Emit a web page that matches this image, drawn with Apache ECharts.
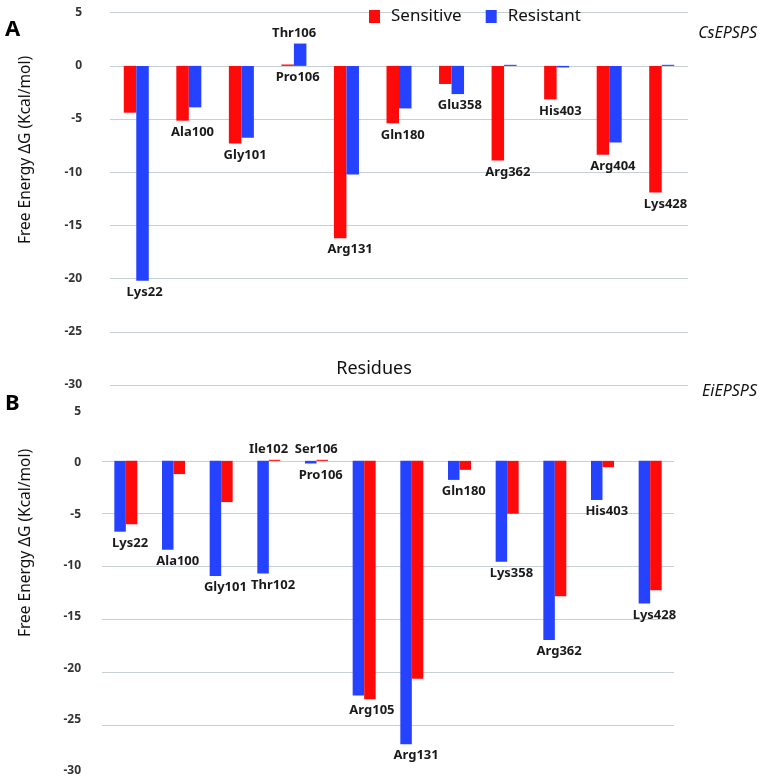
<!DOCTYPE html>
<html><head><meta charset="utf-8">
<script src="https://cdn.jsdelivr.net/npm/echarts@6/dist/echarts.min.js"></script>
<style>html,body{margin:0;padding:0;background:#fff}#c{width:763px;height:778px}</style>
</head><body><div id="c"></div>
<script>
// ---- Panel A: CsEPSPS ----
const csSensitiveRes = ['Lys22','Ala100','Gly101','Pro106','Arg131','Gln180','Glu358','Arg362','His403','Arg404','Lys428'];
const csResistantRes = ['Lys22','Ala100','Gly101','Thr106','Arg131','Gln180','Glu358','Arg362','His403','Arg404','Lys428'];
const csSensitive = [-4.4, -5.15, -7.3, 0.13, -16.2, -5.4, -1.7, -8.9, -3.15, -8.35, -11.9];
const csResistant = [-20.2, -3.9, -6.75, 2.1, -10.2, -4.0, -2.65, 0.1, -0.15, -7.2, 0.1];

// ---- Panel B: EiEPSPS ----
const eiSensitiveRes = ['Lys22','Ala100','Gly101','Ile102','Ser106','Arg105','Arg131','Gln180','Lys358','Arg362','His403','Lys428'];
const eiResistantRes = ['Lys22','Ala100','Gly101','Thr102','Pro106','Arg105','Arg131','Gln180','Lys358','Arg362','His403','Lys428'];
const eiResistant = [-6.7, -8.4, -10.9, -10.65, -0.25, -22.2, -26.8, -1.8, -9.55, -16.95, -3.7, -13.5];
const eiSensitive = [-6.0, -1.25, -3.9, 0.1, 0.1, -22.55, -20.6, -0.85, -5.0, -12.8, -0.6, -12.25];

// axis ticks
const yMin = -30, yMax = 5, yStep = 5;
const legendNames = ['Sensitive', 'Resistant'];
const RED = '#ff0a0a', BLUE = '#2442ff';
const GRID_C = '#c8d0d4';

const labelFont = {fontFamily:'Noto Sans', fontWeight:'bold', fontSize:13, color:'#1a1a1a'};

function labeled(values, names, otherValues, otherNames, isLeft) {
  return values.map((v, i) => {
    const o = otherValues[i];
    const same = names[i] === otherNames[i];
    let show, pos;
    if (same) { show = v < o || (v === o && isLeft); pos = 'bottom'; }
    else { show = true; pos = v >= o ? 'top' : 'bottom'; }
    return {value: v, label: Object.assign({show, formatter: names[i], position: pos, distance: pos === 'top' ? 4 : 5,
      offset: [isLeft ? 10 : (same ? 2 : -6), 0]}, labelFont)};
  });
}

const chart = echarts.init(document.getElementById('c'), null, {renderer:'canvas'});
const tickLabel = {fontFamily:'Noto Sans', fontWeight:'bold', fontSize:12, color:'#333'};

chart.setOption({
  animation: false,
  backgroundColor: '#fff',
  legend: {
    data: legendNames, left: 364, top: 3, itemWidth: 11, itemHeight: 13, itemGap: 24,
    icon: 'rect',
    textStyle: {fontFamily:'Noto Sans', fontSize:17, color:'#111', padding:[0,0,0,6]}
  },
  grid: [
    {left: 110, top: 12.7, width: 578, height: 372.3},
    {left: 102, top: 408, width: 572, height: 381},
    {left: 102, top: 411.7, width: 572, height: 359}
  ],
  xAxis: [
    {type:'category', gridIndex:0, data: csSensitiveRes, axisLine:{show:false}, axisTick:{show:false}, axisLabel:{show:false}},
    {type:'category', gridIndex:1, data: eiResistantRes, axisLine:{show:false}, axisTick:{show:false}, axisLabel:{show:false}},
    {type:'category', gridIndex:2, data: eiResistantRes, show:false}
  ],
  yAxis: [
    {type:'value', gridIndex:0, min:yMin, max:yMax, interval:yStep,
      axisLine:{show:false}, axisTick:{show:false},
      axisLabel: Object.assign({margin: 28}, tickLabel),
      splitLine:{lineStyle:{color:GRID_C, width:1}}},
    {type:'value', gridIndex:1, min:yMin, max:yMax, interval:yStep,
      axisLine:{show:false}, axisTick:{show:false}, axisLabel:{show:false},
      splitLine:{lineStyle:{color:[GRID_C,GRID_C,GRID_C,GRID_C,GRID_C,GRID_C,GRID_C,'rgba(0,0,0,0)'], width:1}}},
    {type:'value', gridIndex:2, min:yMin, max:yMax, interval:yStep,
      axisLine:{show:false}, axisTick:{show:false}, splitLine:{show:false},
      axisLabel: Object.assign({margin: 21}, tickLabel)}
  ],
  series: [
    {name:'Sensitive', type:'bar', xAxisIndex:0, yAxisIndex:0, barWidth:12.5, barGap:'0%',
      itemStyle:{color:RED}, data: labeled(csSensitive, csSensitiveRes, csResistant, csResistantRes, true)},
    {name:'Resistant', type:'bar', xAxisIndex:0, yAxisIndex:0, barWidth:12.5, barGap:'0%',
      itemStyle:{color:BLUE}, data: labeled(csResistant, csResistantRes, csSensitive, csSensitiveRes, false)},
    {name:'Resistant', type:'bar', xAxisIndex:1, yAxisIndex:1, barWidth:11.5, barGap:'0%',
      itemStyle:{color:BLUE}, data: labeled(eiResistant, eiResistantRes, eiSensitive, eiSensitiveRes, true)},
    {name:'Sensitive', type:'bar', xAxisIndex:1, yAxisIndex:1, barWidth:11.5, barGap:'0%',
      itemStyle:{color:RED}, data: labeled(eiSensitive, eiSensitiveRes, eiResistant, eiResistantRes, false)}
  ],
  graphic: [
    {type:'text', left: 5, top: 19, style:{text:'A', fontFamily:'Noto Sans', fontWeight:'bold', fontSize:22, fill:'#000'}},
    {type:'text', left: 5, top: 393, style:{text:'B', fontFamily:'Noto Sans', fontWeight:'bold', fontSize:22, fill:'#000'}},
    {type:'text', right: 6, top: 25, style:{text:'CsEPSPS', fontFamily:'Noto Sans', fontStyle:'italic', fontSize:16, fill:'#111'}},
    {type:'text', right: 6, top: 383, style:{text:'EiEPSPS', fontFamily:'Noto Sans', fontStyle:'italic', fontSize:16, fill:'#111'}},
    {type:'text', x: 374, y: 369, style:{text:'Residues', fontFamily:'Noto Sans', fontSize:18, fill:'#111', align:'center', verticalAlign:'middle'}},
    {type:'text', x: 26, y: 150, rotation: Math.PI/2, style:{text:'Free Energy \u0394G (Kcal/mol)', fontFamily:'Noto Sans', fontSize:15.5, fill:'#111', align:'center', verticalAlign:'middle'}},
    {type:'text', x: 26, y: 543, rotation: Math.PI/2, style:{text:'Free Energy \u0394G (Kcal/mol)', fontFamily:'Noto Sans', fontSize:15.5, fill:'#111', align:'center', verticalAlign:'middle'}}
  ]
});
</script></body></html>
